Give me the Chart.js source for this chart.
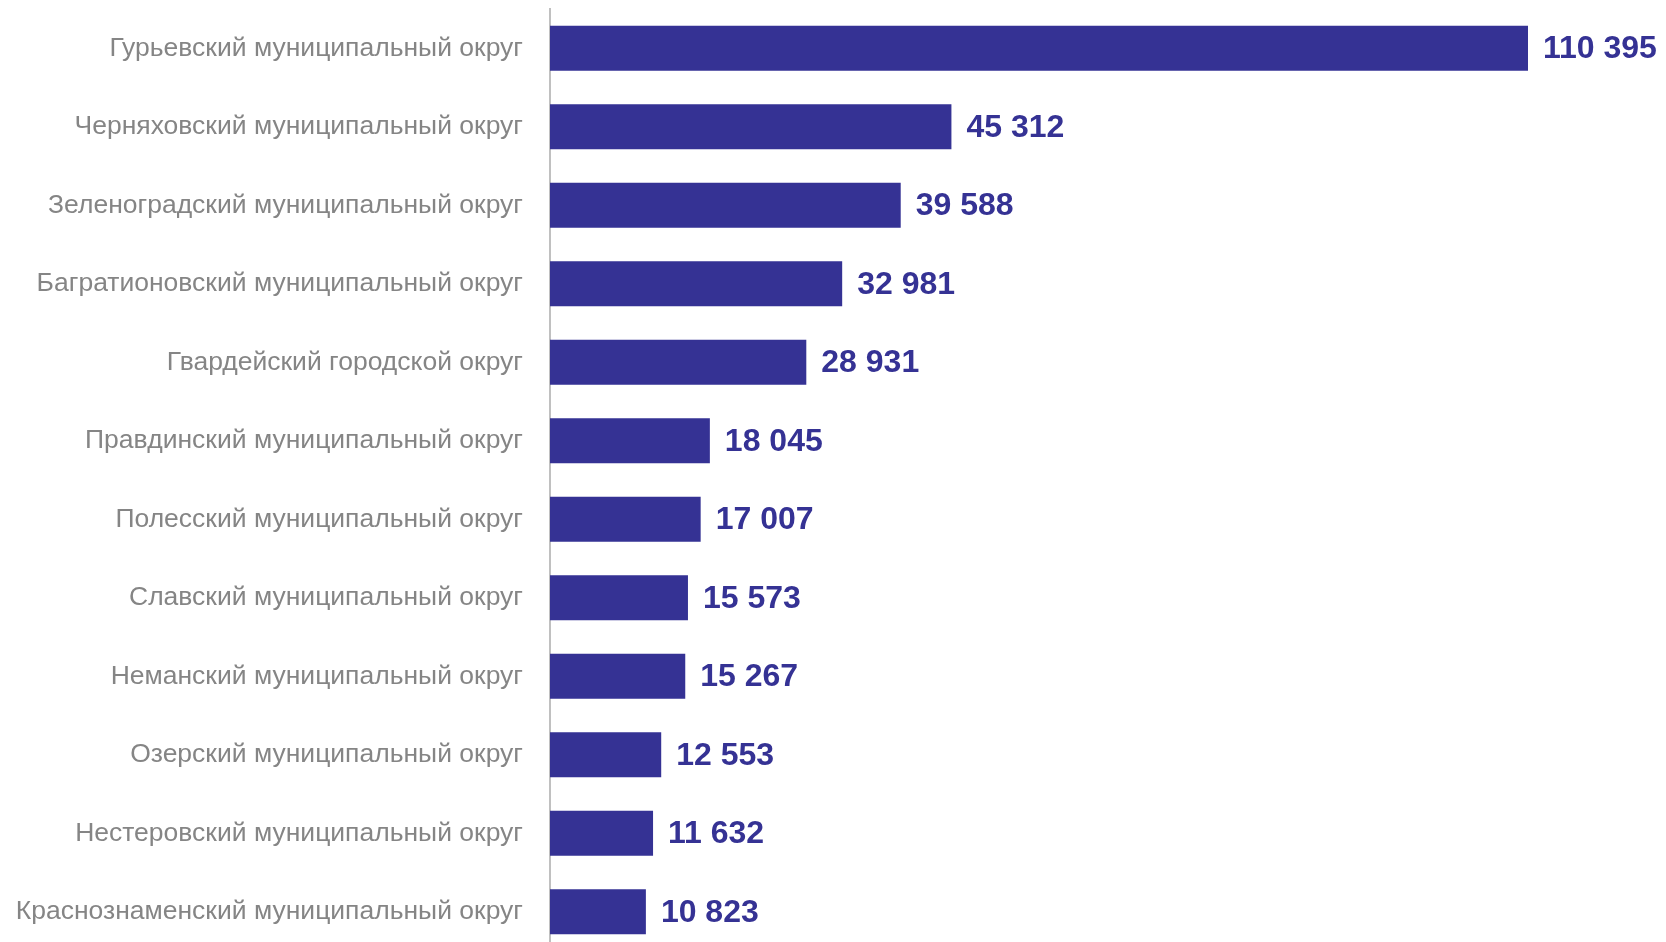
<!DOCTYPE html>
<html lang="ru">
<head>
<meta charset="utf-8">
<script src="https://cdn.jsdelivr.net/npm/chart.js@4/dist/chart.umd.min.js"></script>
<style>
  html, body { margin: 0; padding: 0; background: #fff; overflow: hidden; }
  #wrap { position: relative; width: 1666px; height: 951px; }
</style>
</head>
<body>
<div id="wrap"><canvas id="okrugChart"></canvas></div>
<script>
// Данные диаграммы
const okruga = [
    'Гурьевский муниципальный округ',
    'Черняховский муниципальный округ',
    'Зеленоградский муниципальный округ',
    'Багратионовский муниципальный округ',
    'Гвардейский городской округ',
    'Правдинский муниципальный округ',
    'Полесский муниципальный округ',
    'Славский муниципальный округ',
    'Неманский муниципальный округ',
    'Озерский муниципальный округ',
    'Нестеровский муниципальный округ',
    'Краснознаменский муниципальный округ'
];
const znacheniya = [110395, 45312, 39588, 32981, 28931, 18045, 17007, 15573, 15267, 12553, 11632, 10823];

const barColor = '#353294';

function formatNum(v) {
    return String(v).replace(/\B(?=(\d{3})+(?!\d))/g, ' ');
}

// Подписи значений справа от столбцов
const valueLabels = {
    id: 'valueLabels',
    afterDatasetsDraw(chart) {
        const ctx = chart.ctx;
        const meta = chart.getDatasetMeta(0);
        ctx.save();
        ctx.font = 'bold 32px "Liberation Sans", Arial, sans-serif';
        ctx.fillStyle = barColor;
        ctx.textAlign = 'left';
        ctx.textBaseline = 'middle';
        meta.data.forEach(function(bar, i) {
            ctx.fillText(formatNum(znacheniya[i]), bar.x + 15, bar.y + 1);
        });
        ctx.restore();
    }
};

document.addEventListener('DOMContentLoaded', function() {
    const ctx = document.getElementById('okrugChart').getContext('2d');
    new Chart(ctx, {
        type: 'bar',
        data: {
            labels: okruga,
            datasets: [{
                data: znacheniya,
                backgroundColor: barColor,
                borderWidth: 0,
                barPercentage: 0.575,
                categoryPercentage: 1
            }]
        },
        options: {
            indexAxis: 'y',
            responsive: true,
            maintainAspectRatio: false,
            animation: false,
            layout: { padding: { top: 9, right: 138, bottom: 0, left: 0 } },
            plugins: {
                legend: { display: false },
                tooltip: { enabled: false }
            },
            scales: {
                x: {
                    display: false,
                    min: 0,
                    max: Math.max(...znacheniya)
                },
                y: {
                    afterFit: function(scale) {
                        scale.width = 550;
                        scale.paddingTop = 0;
                        scale.paddingBottom = 0;
                    },
                    grid: { display: false, drawTicks: false },
                    border: { display: true, color: '#C0C0C0', width: 2 },
                    ticks: {
                        padding: 27,
                        color: '#858585',
                        font: { family: '"Liberation Sans", Arial, sans-serif', size: 26.5 }
                    }
                }
            }
        },
        plugins: [valueLabels]
    });
});
</script>
</body>
</html>
